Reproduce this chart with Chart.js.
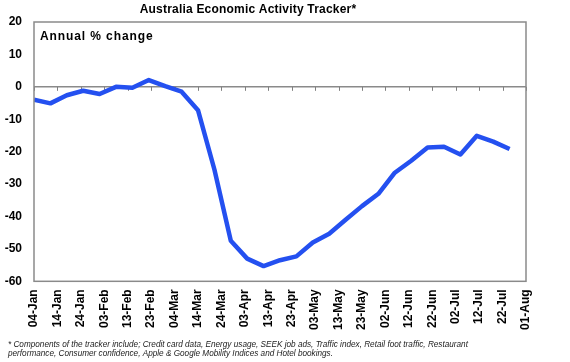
<!DOCTYPE html>
<html>
<head>
<meta charset="utf-8">
<script src="https://cdn.jsdelivr.net/npm/chart.js@4/dist/chart.umd.min.js"></script>
<style>
  html, body { margin: 0; padding: 0; background: #fff; }
  #wrap { width: 570px; height: 362px; }
</style>
</head>
<body>
<div id="wrap"><canvas id="c" width="570" height="362"></canvas></div>
<script>
const chartTitle = 'Australia Economic Activity Tracker*';
const panelLabel = 'Annual % change';
const footnoteLines = [
  '* Components of the tracker include; Credit card data, Energy usage, SEEK job ads, Traffic index, Retail foot traffic, Restaurant',
  'performance, Consumer confidence, Apple & Google Mobility Indices and Hotel bookings.'
];
const startDate = '2020-01-04';
const endDate = '2020-08-01';
const weekDates = [
  '2020-01-04','2020-01-11','2020-01-18','2020-01-25','2020-02-01','2020-02-08','2020-02-15','2020-02-22','2020-02-29',
  '2020-03-07','2020-03-14','2020-03-21','2020-03-28','2020-04-04','2020-04-11','2020-04-18','2020-04-25',
  '2020-05-02','2020-05-09','2020-05-16','2020-05-23','2020-05-30','2020-06-06','2020-06-13','2020-06-20','2020-06-27',
  '2020-07-04','2020-07-11','2020-07-18','2020-07-25'
];
const trackerValues = [
  -4.0, -5.1, -2.6, -1.2, -2.2, 0.0, -0.3, 2.1, 0.2,
  -1.5, -7.2, -25.5, -47.5, -53.0, -55.3, -53.5, -52.3,
  -48.0, -45.3, -41.0, -36.8, -33.0, -26.5, -22.8, -18.7, -18.5,
  -20.9, -15.1, -16.9, -19.2
];
const tickLabels = ['04-Jan','14-Jan','24-Jan','03-Feb','13-Feb','23-Feb','04-Mar','14-Mar','24-Mar','03-Apr','13-Apr',
  '23-Apr','03-May','13-May','23-May','02-Jun','12-Jun','22-Jun','02-Jul','12-Jul','22-Jul','01-Aug'];

const DAY = 86400000;
const dayOffset = d => Math.round((Date.parse(d) - Date.parse(startDate)) / DAY);
const points = weekDates.map((d, i) => ({ x: dayOffset(d), y: trackerValues[i] }));
const tickStep = 10;

const FONT = "'Liberation Sans', Arial, sans-serif";

const framePlugin = {
  id: 'frame',
  beforeDatasetsDraw(chart) {
    const { ctx, chartArea: a, scales } = chart;
    ctx.save();
    const y0 = scales.y.getPixelForValue(0);
    ctx.strokeStyle = '#808080';
    ctx.lineWidth = 1;
    scales.x.ticks.forEach(t => {
      const px = Math.round(scales.x.getPixelForValue(t.value)) + 0.5;
      ctx.beginPath(); ctx.moveTo(px, y0); ctx.lineTo(px, y0 + 4); ctx.stroke();
    });
    ctx.fillStyle = '#000';
    ctx.font = 'bold 12px ' + FONT;
    ctx.textBaseline = 'middle';
    ctx.textAlign = 'left';
    if (ctx.letterSpacing !== undefined) ctx.letterSpacing = '0.9px';
    ctx.fillText(panelLabel, a.left + 6, a.top + 15);
    ctx.restore();
  },
  afterDraw(chart) {
    const { ctx, chartArea: a } = chart;
    ctx.save();
    ctx.strokeStyle = '#8a8a8a';
    ctx.lineWidth = 1.5;
    ctx.strokeRect(a.left, a.top, a.right - a.left, a.bottom - a.top);
    ctx.fillStyle = '#000';
    ctx.font = 'bold 12px ' + FONT;
    ctx.textAlign = 'center';
    ctx.textBaseline = 'middle';
    if (ctx.letterSpacing !== undefined) ctx.letterSpacing = '0.2px';
    ctx.fillText(chartTitle, (a.left + a.right) / 2 - 32, a.top - 12);
    ctx.fillStyle = '#222';
    ctx.font = 'italic 8.2px ' + FONT;
    ctx.textAlign = 'left';
    if (ctx.letterSpacing !== undefined) ctx.letterSpacing = '0px';
    footnoteLines.forEach((line, i) => ctx.fillText(line, 8, a.bottom + 63 + i * 9.5));
    ctx.restore();
  }
};

new Chart(document.getElementById('c'), {
  type: 'line',
  data: {
    datasets: [{
      data: points,
      borderColor: '#2450f0',
      borderWidth: 4.5,
      pointRadius: 0,
      tension: 0,
      fill: false,
      borderJoinStyle: 'round',
      borderCapStyle: 'butt'
    }]
  },
  options: {
    responsive: false,
    animation: false,
    devicePixelRatio: 1,
    layout: { padding: { left: 0, right: 44, top: 22, bottom: 32 } },
    plugins: {
      legend: { display: false },
      tooltip: { enabled: false },
      title: { display: false }
    },
    scales: {
      x: {
        type: 'linear',
        min: dayOffset(startDate),
        max: dayOffset(endDate),
        grid: { display: false },
        border: { display: false },
        ticks: {
          stepSize: tickStep,
          autoSkip: false,
          minRotation: 90,
          maxRotation: 90,
          padding: 0,
          color: '#000',
          font: { family: FONT, size: 12, weight: 'bold' },
          callback: v => tickLabels[Math.round(v / tickStep)]
        }
      },
      y: {
        min: -60,
        max: 20,
        afterFit: s => { s.width = 34; },
        grid: {
          drawTicks: false,
          lineWidth: 1.5,
          color: c => (c.tick && c.tick.value === 0) ? '#8a8a8a' : 'rgba(0,0,0,0)'
        },
        border: { display: false },
        ticks: {
          stepSize: 10,
          padding: 12,
          color: '#000',
          font: { family: FONT, size: 12, weight: 'bold' }
        }
      }
    }
  },
  plugins: [framePlugin]
});
</script>
</body>
</html>
